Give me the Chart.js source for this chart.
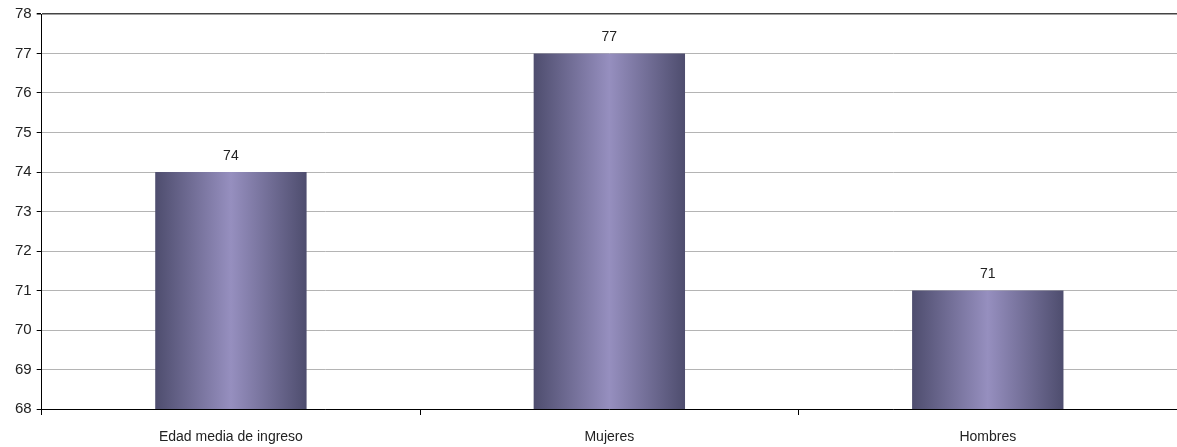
<!DOCTYPE html>
<html>
<head>
<meta charset="utf-8">
<script src="https://cdn.jsdelivr.net/npm/chart.js@4.4.0/dist/chart.umd.min.js"></script>
<style>
  html, body { margin: 0; padding: 0; background: #fff; }
  #wrap { position: relative; width: 1177px; height: 447px; }
</style>
</head>
<body>
<div id="wrap"><canvas id="chart"></canvas></div>
<script>
const categories = ['Edad media de ingreso', 'Mujeres', 'Hombres'];
const values = [74, 77, 71];
const yMin = 68;
const yMax = 78;

const BAR_FRACTION = 0.4;
const FONT = '"Liberation Sans", Arial, sans-serif';

// horizontal "cylinder" gradient across each bar
function barGradient(ctx) {
    const chart = ctx.chart;
    const xs = chart.scales.x;
    if (!xs || ctx.dataIndex === undefined) return '#7a76a0';
    const cx = xs.getPixelForValue(ctx.dataIndex);
    const w = (xs.width / categories.length) * BAR_FRACTION;
    if (!isFinite(cx) || !isFinite(w) || w <= 0) return '#7a76a0';
    const g = chart.ctx.createLinearGradient(cx - w / 2, 0, cx + w / 2, 0);
    g.addColorStop(0, '#4e4d6e');
    g.addColorStop(0.5, '#968fbf');
    g.addColorStop(1, '#4e4d6e');
    return g;
}

const valueLabels = {
    id: 'valueLabels',
    afterDatasetsDraw(chart) {
        const ctx = chart.ctx;
        const meta = chart.getDatasetMeta(0);
        ctx.save();
        ctx.font = '14px ' + FONT;
        ctx.fillStyle = '#222';
        ctx.textAlign = 'center';
        ctx.textBaseline = 'bottom';
        meta.data.forEach((bar, i) => {
            ctx.fillText(String(values[i]), bar.x, bar.y - 9);
        });
        ctx.restore();
    }
};

new Chart(document.getElementById('chart'), {
    type: 'bar',
    data: {
        labels: categories,
        datasets: [{
            data: values,
            backgroundColor: barGradient,
            borderWidth: 0,
            categoryPercentage: 1,
            barPercentage: BAR_FRACTION
        }]
    },
    options: {
        responsive: true,
        maintainAspectRatio: false,
        animation: false,
        layout: { padding: { top: -1, right: 0, left: 10, bottom: 0 } },
        plugins: {
            legend: { display: false },
            tooltip: { enabled: false }
        },
        scales: {
            x: {
                offset: true,
                afterFit: (scale) => { scale.height = 38; },
                grid: {
                    offset: true,
                    drawOnChartArea: false,
                    drawTicks: true,
                    tickLength: 6,
                    color: '#000'
                },
                border: { color: '#000', width: 1 },
                ticks: {
                    color: '#222',
                    padding: 14,
                    font: { family: FONT, size: 14 }
                }
            },
            y: {
                min: yMin,
                max: yMax,
                ticks: {
                    stepSize: 1,
                    color: '#222',
                    padding: 5,
                    font: { family: FONT, size: 15 }
                },
                grid: {
                    color: (c) => c.tick && c.tick.value === yMax ? '#444' : '#b4b4b4',
                    tickColor: '#000',
                    tickLength: 5,
                    lineWidth: (c) => c.tick && c.tick.value === yMax ? 1.5 : 1
                },
                border: { color: '#000', width: 1 }
            }
        }
    },
    plugins: [valueLabels]
});
</script>
</body>
</html>
